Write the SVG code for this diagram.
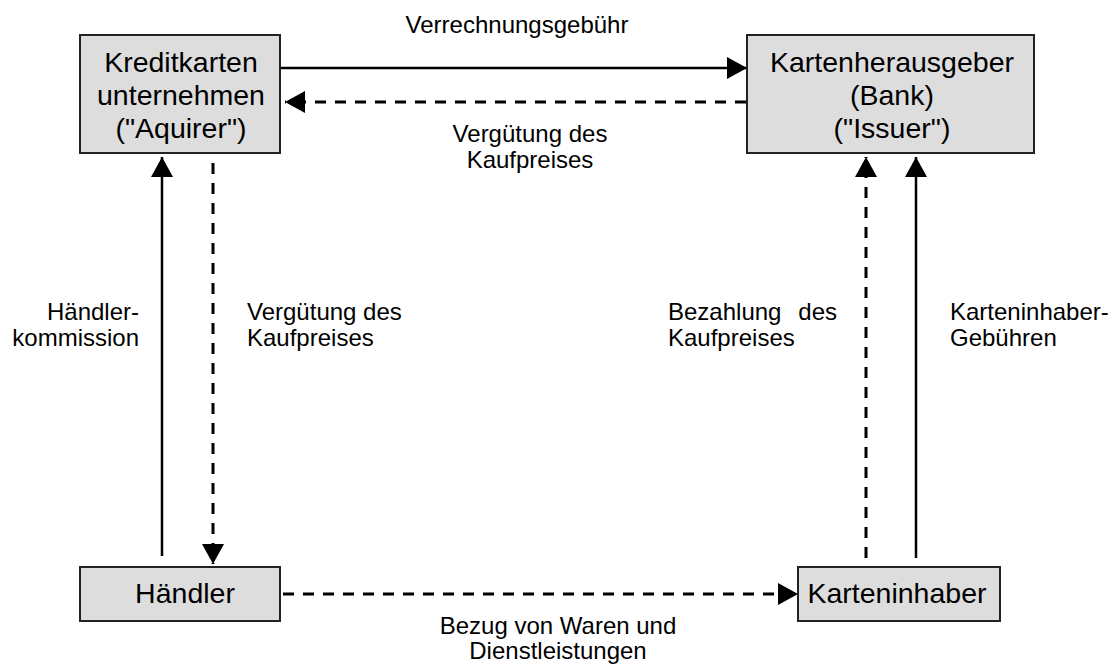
<svg xmlns="http://www.w3.org/2000/svg" width="1112" height="668" viewBox="0 0 1112 668">
<style>
.box{fill:#dddddd;stroke:#222;stroke-width:2}
.nt{font-family:"Liberation Sans",Arial,sans-serif;font-size:28.5px;fill:#000;text-anchor:middle}
.lt{font-family:"Liberation Sans",Arial,sans-serif;font-size:24px;fill:#000}
.solid{stroke:#000;stroke-width:2.5;fill:none}
.dash{stroke:#000;stroke-width:3;fill:none;stroke-dasharray:11 9}
</style>
<defs>
<marker id="ah" viewBox="0 0 20 22" refX="20" refY="11" markerWidth="20" markerHeight="22" markerUnits="userSpaceOnUse" orient="auto">
<path d="M0,0 L20,11 L0,22 Z" fill="#000"/>
</marker>
</defs>
<rect width="1112" height="668" fill="#fff"/>
<g id="connectors">
<line class="solid" x1="281" y1="68" x2="747" y2="68" marker-end="url(#ah)"/>
<line class="dash" x1="746" y1="102" x2="285" y2="102" marker-end="url(#ah)"/>
<line class="solid" x1="162" y1="556" x2="162" y2="157" marker-end="url(#ah)"/>
<line class="dash" x1="213" y1="163" x2="213" y2="564" marker-end="url(#ah)"/>
<line class="dash" x1="866" y1="558" x2="866" y2="157" marker-end="url(#ah)"/>
<line class="solid" x1="916" y1="558" x2="916" y2="157" marker-end="url(#ah)"/>
<line class="dash" x1="283" y1="594" x2="798" y2="594" marker-end="url(#ah)"/>
</g>
<g id="labels">
<text class="lt" x="517" y="33" text-anchor="middle">Verrechnungsgebühr</text>
<text class="lt" x="530" y="142" text-anchor="middle">Vergütung des</text>
<text class="lt" x="530" y="168" text-anchor="middle">Kaufpreises</text>
<text class="lt" x="139" y="320" text-anchor="end">Händler-</text>
<text class="lt" x="139" y="346" text-anchor="end">kommission</text>
<text class="lt" x="247" y="320">Vergütung des</text>
<text class="lt" x="247" y="346">Kaufpreises</text>
<text class="lt" x="668" y="320">Bezahlung</text>
<text class="lt" x="837" y="320" text-anchor="end">des</text>
<text class="lt" x="668" y="346">Kaufpreises</text>
<text class="lt" x="950" y="320">Karteninhaber-</text>
<text class="lt" x="950" y="346">Gebühren</text>
<text class="lt" x="558" y="634" text-anchor="middle">Bezug von Waren und</text>
<text class="lt" x="558" y="659" text-anchor="middle">Dienstleistungen</text>
</g>
<g id="acquirer">
<rect class="box" x="80" y="35" width="200" height="118"/>
<text class="nt" x="181" y="72">Kreditkarten</text>
<text class="nt" x="181" y="105">unternehmen</text>
<text class="nt" x="181" y="138">("Aquirer")</text>
</g>
<g id="issuer">
<rect class="box" x="747" y="35" width="287" height="118"/>
<text class="nt" x="892" y="72">Kartenherausgeber</text>
<text class="nt" x="892" y="105">(Bank)</text>
<text class="nt" x="892" y="138">("Issuer")</text>
</g>
<g id="haendler">
<rect class="box" x="80" y="567" width="200" height="54"/>
<text class="nt" x="185" y="603">Händler</text>
</g>
<g id="karteninhaber">
<rect class="box" x="798" y="567" width="202" height="54"/>
<text class="nt" x="897" y="603">Karteninhaber</text>
</g>
</svg>
